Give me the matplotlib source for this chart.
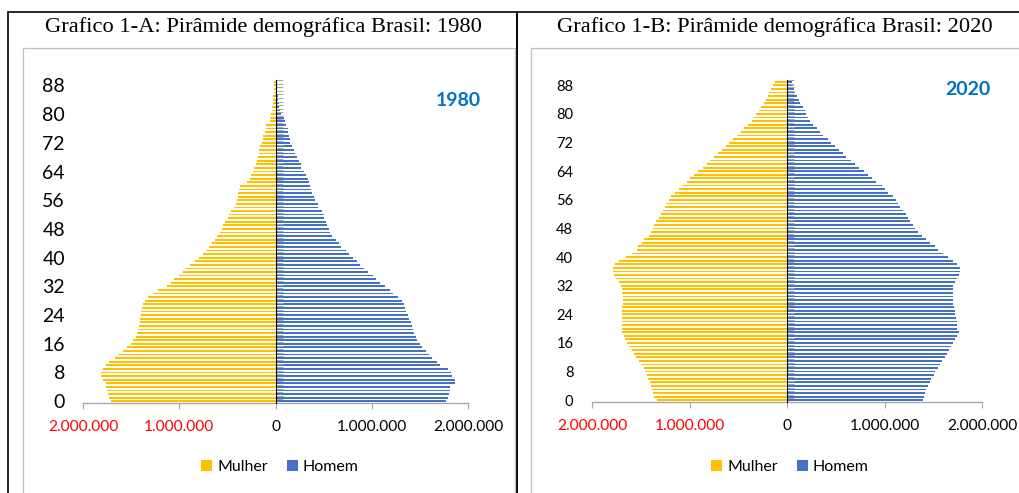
import numpy as np
import matplotlib
matplotlib.use("Agg")
import matplotlib.pyplot as plt
from matplotlib.patches import Rectangle, Patch
from matplotlib.ticker import FixedLocator, NullFormatter

plt.rcParams['font.family'] = ['Lato', 'DejaVu Sans']

ages = list(range(0, 90))

# population in millions, ages 0..89
mulher_1980 = [1.71, 1.73, 1.74, 1.75, 1.76, 1.76, 1.79, 1.81, 1.81, 1.79,
               1.76, 1.73, 1.67, 1.64, 1.58, 1.54, 1.50, 1.48, 1.45, 1.44,
               1.43, 1.42, 1.41, 1.41, 1.40, 1.40, 1.39, 1.38, 1.36, 1.32,
               1.27, 1.22, 1.13, 1.09, 1.05, 1.00, 0.96, 0.93, 0.89, 0.84,
               0.79, 0.75, 0.72, 0.69, 0.66, 0.63, 0.61, 0.58, 0.56, 0.55,
               0.52, 0.49, 0.48, 0.46, 0.43, 0.41, 0.40, 0.39, 0.39, 0.38,
               0.37, 0.30, 0.27, 0.25, 0.23, 0.22, 0.20, 0.19, 0.18, 0.17,
               0.17, 0.16, 0.145, 0.13, 0.125, 0.11, 0.10, 0.10, 0.06, 0.055,
               0.045, 0.04, 0.035, 0.03, 0.028, 0.025, 0.02, 0.018, 0.015, 0.012]
homem_1980 = [1.77, 1.79, 1.80, 1.81, 1.81, 1.86, 1.87, 1.83, 1.82, 1.79,
              1.71, 1.68, 1.63, 1.59, 1.56, 1.52, 1.50, 1.47, 1.46, 1.44,
              1.43, 1.42, 1.41, 1.39, 1.38, 1.36, 1.35, 1.34, 1.31, 1.27,
              1.22, 1.19, 1.14, 1.09, 1.04, 1.01, 0.96, 0.92, 0.88, 0.85,
              0.80, 0.76, 0.73, 0.68, 0.66, 0.63, 0.59, 0.57, 0.56, 0.53,
              0.52, 0.50, 0.50, 0.48, 0.44, 0.44, 0.41, 0.40, 0.38, 0.37,
              0.36, 0.35, 0.34, 0.32, 0.30, 0.27, 0.26, 0.24, 0.22, 0.20,
              0.19, 0.17, 0.15, 0.15, 0.14, 0.13, 0.125, 0.11, 0.10, 0.085,
              0.06, 0.05, 0.04, 0.035, 0.03, 0.025, 0.02, 0.017, 0.014, 0.01]
mulher_2020 = [1.33, 1.36, 1.37, 1.38, 1.40, 1.41, 1.43, 1.44, 1.46, 1.47,
               1.50, 1.52, 1.55, 1.57, 1.59, 1.62, 1.64, 1.66, 1.67, 1.69,
               1.69, 1.69, 1.69, 1.69, 1.69, 1.69, 1.69, 1.68, 1.68, 1.68,
               1.69, 1.69, 1.70, 1.72, 1.75, 1.77, 1.78, 1.78, 1.76, 1.72,
               1.65, 1.59, 1.54, 1.53, 1.49, 1.47, 1.42, 1.39, 1.37, 1.36,
               1.34, 1.31, 1.29, 1.27, 1.25, 1.24, 1.21, 1.19, 1.15, 1.11,
               1.08, 1.03, 0.99, 0.95, 0.91, 0.86, 0.82, 0.79, 0.75, 0.71,
               0.67, 0.63, 0.59, 0.55, 0.51, 0.47, 0.44, 0.40, 0.36, 0.34,
               0.32, 0.29, 0.27, 0.24, 0.22, 0.19, 0.18, 0.16, 0.14, 0.12]
homem_2020 = [1.39, 1.40, 1.42, 1.43, 1.45, 1.47, 1.48, 1.51, 1.52, 1.55,
              1.57, 1.59, 1.62, 1.64, 1.66, 1.68, 1.70, 1.72, 1.74, 1.76,
              1.74, 1.74, 1.74, 1.73, 1.72, 1.72, 1.71, 1.70, 1.70, 1.70,
              1.70, 1.70, 1.70, 1.72, 1.74, 1.76, 1.77, 1.77, 1.74, 1.70,
              1.65, 1.60, 1.55, 1.52, 1.47, 1.43, 1.38, 1.34, 1.31, 1.29,
              1.26, 1.24, 1.22, 1.19, 1.16, 1.14, 1.12, 1.09, 1.04, 1.00,
              0.97, 0.91, 0.87, 0.83, 0.79, 0.74, 0.70, 0.66, 0.61, 0.57,
              0.53, 0.49, 0.45, 0.42, 0.37, 0.34, 0.31, 0.27, 0.24, 0.22,
              0.19, 0.18, 0.16, 0.13, 0.12, 0.10, 0.08, 0.07, 0.06, 0.055]

ytick_ages = list(range(0, 89, 8))
xtick_values = [-2_000_000, -1_000_000, 0, 1_000_000, 2_000_000]
xtick_labels = ['2.000.000', '1.000.000', '0', '1.000.000', '2.000.000']
xtick_colors = ['#FF0000', '#FF0000', 'black', 'black', 'black']

titles = ['Grafico 1-A: Pirâmide demográfica Brasil: 1980',
          'Grafico 1-B: Pirâmide demográfica Brasil: 2020']
years = ['1980', '2020']

C_MULHER = '#FFC000'
C_HOMEM = '#4472C4'
C_AXIS = '#A6A6A6'

W, H = 1020, 493
fig = plt.figure(figsize=(W / 100, H / 100), dpi=100)


def fx(px):
    return px / W


def fy(py):
    return 1 - py / H


# panel frames
fig.patches.append(Rectangle((fx(8.5), fy(520)), fx(517 - 8.5), fy(12.5) - fy(520),
                             transform=fig.transFigure, fill=False, ec='black', lw=1.2))
fig.patches.append(Rectangle((fx(517), fy(520)), fx(1040 - 517), fy(12.5) - fy(520),
                             transform=fig.transFigure, fill=False, ec='black', lw=1.2))
fig.patches.append(Rectangle((fx(23), fy(520)), fx(515 - 23), fy(48) - fy(520),
                             transform=fig.transFigure, fill=False, ec='#BFBFBF', lw=0.9))
fig.patches.append(Rectangle((fx(531), fy(520)), fx(1040 - 531), fy(48) - fy(520),
                             transform=fig.transFigure, fill=False, ec='#BFBFBF', lw=0.9))

panels = [
    dict(rect=(83, 468, 80, 403), mul=mulher_1980, hom=homem_1980, title_x=263,
         ysize=14, ypad=13, yr_pos=(0.974, 0.938), leg_x=280),
    dict(rect=(592, 982, 80, 402), mul=mulher_2020, hom=homem_2020, title_x=775,
         ysize=10.5, ypad=13.5, yr_pos=(0.964, 0.969), leg_x=790),
]

for i, p in enumerate(panels):
    x0, x1, ytop, ybot = p['rect']
    ax = fig.add_axes([fx(x0), fy(ybot), fx(x1 - x0), fy(ytop) - fy(ybot)])
    mul = np.array(p['mul']) * 1e6
    hom = np.array(p['hom']) * 1e6
    ax.barh(ages, -mul, height=0.5, color=C_MULHER, label='Mulher', zorder=2)
    ax.barh(ages, hom, height=0.5, color=C_HOMEM, label='Homem', zorder=2)
    ax.set_xlim(-2_000_000, 2_000_000)
    ax.set_ylim(-0.5, len(ages) - 0.5)
    for s in ['top', 'right', 'left']:
        ax.spines[s].set_visible(False)
    ax.spines['bottom'].set_color(C_AXIS)
    ax.spines['bottom'].set_linewidth(1.0)
    ax.set_xticks(xtick_values)
    ax.set_xticklabels(xtick_labels)
    for lbl, c in zip(ax.get_xticklabels(), xtick_colors):
        lbl.set_color(c)
    ax.tick_params(axis='x', length=4, color=C_AXIS, pad=8, labelsize=11.2)
    ax.set_yticks(ytick_ages)
    ax.set_yticklabels([str(a) for a in ytick_ages])
    ax.tick_params(axis='y', length=0, pad=p['ypad'], labelsize=p['ysize'])

    sec = ax.secondary_yaxis(0.5)
    sec.yaxis.set_major_locator(FixedLocator(np.arange(-0.5, len(ages), 1.0)))
    sec.yaxis.set_major_formatter(NullFormatter())
    sec.tick_params(axis='y', length=5, width=0.7, color='#A6A6A6', direction='out')
    sec.spines['left'].set_color('#999999')
    sec.spines['left'].set_linewidth(0.9)
    sec.set_zorder(3)

    ax.text(p['yr_pos'][0], p['yr_pos'][1], years[i], transform=ax.transAxes,
            ha='center', va='center', fontsize=14, fontweight='bold', color='#0070C0')

    fig.text(fx(p['title_x']), fy(27), titles[i], ha='center', va='center',
             fontsize=16.2, family=['Liberation Serif', 'DejaVu Serif'])

    handles = [Patch(facecolor=C_MULHER), Patch(facecolor=C_HOMEM)]
    fig.legend(handles, ['Mulher', 'Homem'], loc='center',
               bbox_to_anchor=(fx(p['leg_x']), fy(467)), ncol=2, frameon=False,
               fontsize=11.5, handlelength=0.7, handleheight=0.7,
               handletextpad=0.3, columnspacing=1.2, borderaxespad=0)

fig.savefig('out.png', dpi=100)
